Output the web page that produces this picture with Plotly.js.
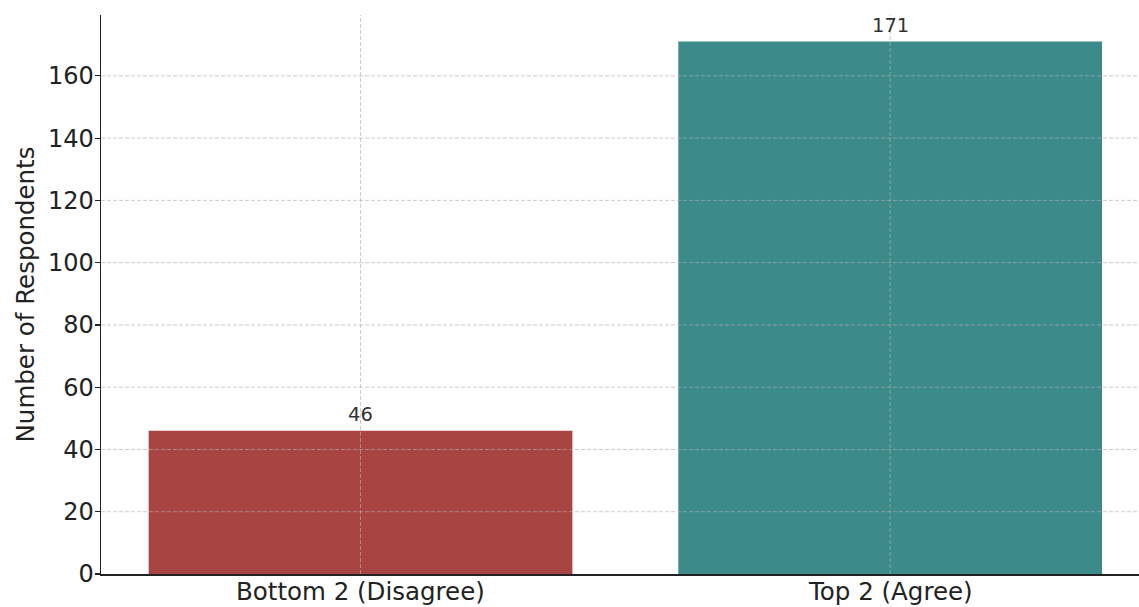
<!DOCTYPE html>
<html>
<head>
<meta charset="utf-8">
<script src="https://cdn.plot.ly/plotly-3.0.1.min.js"></script>
<style>html,body{margin:0;padding:0;overflow:hidden;background:#fff;}</style>
</head>
<body>
<div id="chart" style="width:1139px;height:607px;"></div>
<script>
const categories = ["Bottom 2 (Disagree)", "Top 2 (Agree)"];
const respondents = [46, 171];
const barColors = ["#a84442", "#3d8a8a"];
const yTicks = [0, 20, 40, 60, 80, 100, 120, 140, 160];

const FONT = "DejaVu Sans, sans-serif";
const gridStyle = {color: "rgba(176,176,176,0.65)", width: 1, dash: "4px,2px"};

const shapes = [];
yTicks.filter(v => v > 0).forEach(v => shapes.push({
  type: "line", layer: "above", xref: "paper", yref: "y",
  x0: 0, x1: 1, y0: v, y1: v, line: gridStyle
}));
categories.forEach((c, i) => shapes.push({
  type: "line", layer: "above", xref: "x", yref: "paper",
  x0: i, x1: i, y0: 0, y1: 1, line: gridStyle
}));

const annotations = categories.map((c, i) => ({
  x: i, y: respondents[i], xref: "x", yref: "y",
  text: String(respondents[i]), showarrow: false,
  yanchor: "bottom", yshift: 3,
  font: {family: FONT, size: 19.5, color: "#333333"}
}));
// category labels under the axis
categories.forEach((c, i) => annotations.push({
  x: i, y: 0, xref: "x", yref: "paper",
  text: c, showarrow: false,
  yanchor: "top", yshift: -1,
  font: {family: FONT, size: 24.5, color: "#222222"}
}));

const trace = {
  type: "bar",
  x: categories.map((c, i) => i),
  y: respondents,
  width: 0.8,
  marker: {color: barColors, line: {width: 0}},
  hoverinfo: "none"
};

const layout = {
  width: 1139, height: 607,
  margin: {l: 101, r: 0, t: 15, b: 33},
  paper_bgcolor: "#ffffff", plot_bgcolor: "#ffffff",
  showlegend: false,
  font: {family: FONT, color: "#222222"},
  xaxis: {
    range: [-0.49, 1.4698],
    tickmode: "array", tickvals: categories.map((c, i) => i), ticktext: categories,
    showticklabels: false,
    showgrid: false, zeroline: false,
    showline: true, linecolor: "#222222", linewidth: 1.5,
    ticks: ""
  },
  yaxis: {
    range: [0, 179.55],
    tickmode: "array", tickvals: yTicks,
    showgrid: false, zeroline: false,
    showline: true, linecolor: "#222222", linewidth: 1.5,
    ticks: "outside", ticklen: 5, tickcolor: "#222222", tickwidth: 1.2,
    ticklabelstandoff: -4,
    tickfont: {family: FONT, size: 24, color: "#222222"},
    title: {text: "Number of Respondents", font: {family: FONT, size: 24.5, color: "#222222"}, standoff: 6}
  },
  shapes: shapes,
  annotations: annotations
};

Plotly.newPlot("chart", [trace], layout, {displayModeBar: false, staticPlot: true});
</script>
</body>
</html>
